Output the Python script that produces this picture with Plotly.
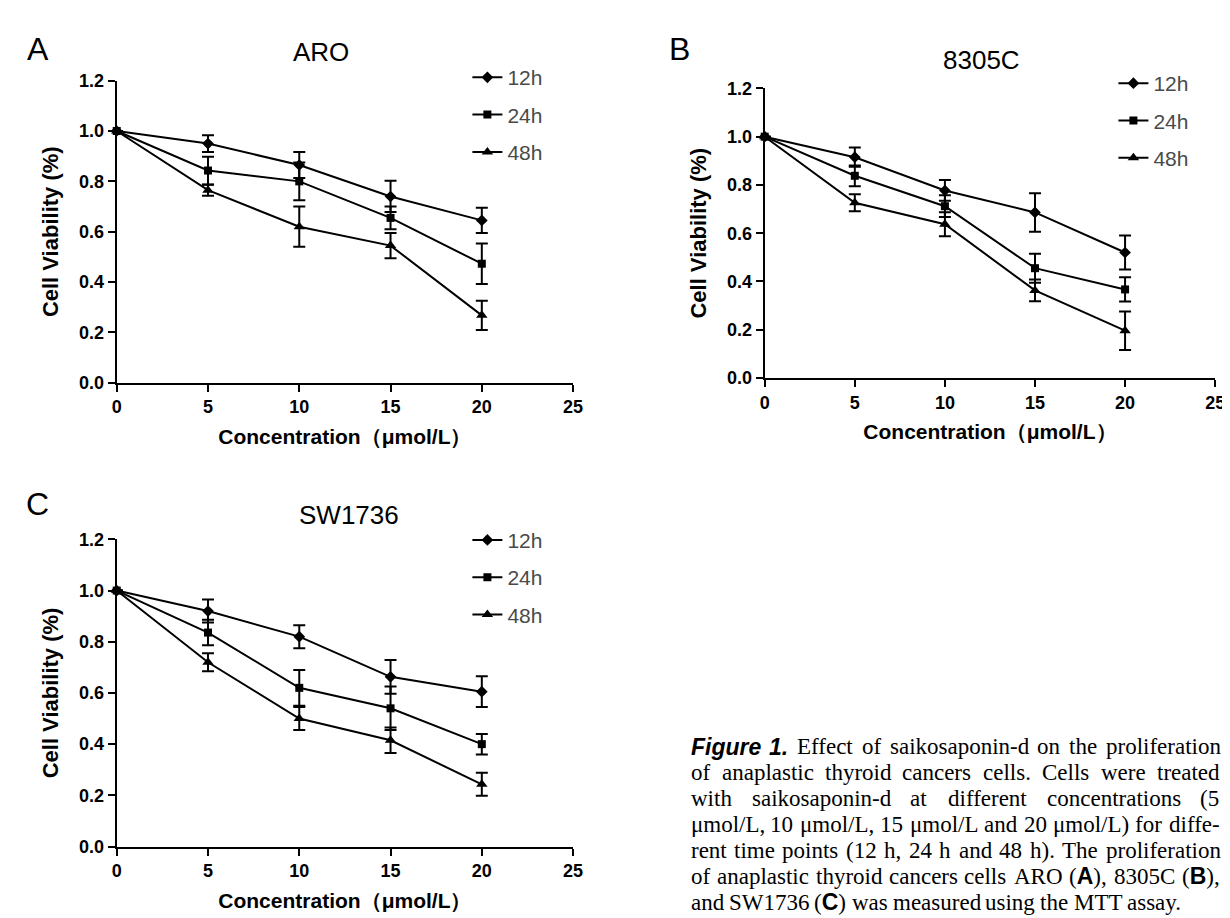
import re
import plotly.graph_objects as go

W, H = 1230, 918

# ---------------- data ----------------
conc = [0, 5, 10, 15, 20]
series_names = ["12h", "24h", "48h"]
x_ticks = [0, 5, 10, 15, 20, 25]
y_ticks = [0.0, 0.2, 0.4, 0.6, 0.8, 1.0, 1.2]

aro_12h = [1.0, 0.95, 0.865, 0.74, 0.645]
aro_12h_err = [0.0, 0.033, 0.052, 0.062, 0.05]
aro_24h = [1.0, 0.843, 0.80, 0.655, 0.473]
aro_24h_err = [0.0, 0.055, 0.075, 0.045, 0.08]
aro_48h = [1.0, 0.765, 0.62, 0.545, 0.268]
aro_48h_err = [0.0, 0.022, 0.08, 0.05, 0.058]

c8305_12h = [1.0, 0.915, 0.777, 0.686, 0.52]
c8305_12h_err = [0.0, 0.04, 0.043, 0.08, 0.07]
c8305_24h = [1.0, 0.838, 0.712, 0.455, 0.367]
c8305_24h_err = [0.0, 0.043, 0.045, 0.06, 0.05]
c8305_48h = [1.0, 0.726, 0.637, 0.363, 0.196]
c8305_48h_err = [0.0, 0.035, 0.05, 0.045, 0.08]

sw_12h = [1.0, 0.92, 0.82, 0.663, 0.605]
sw_12h_err = [0.0, 0.045, 0.045, 0.066, 0.06]
sw_24h = [1.0, 0.836, 0.62, 0.54, 0.40]
sw_24h_err = [0.0, 0.05, 0.07, 0.085, 0.04]
sw_48h = [1.0, 0.72, 0.50, 0.415, 0.243]
sw_48h_err = [0.0, 0.035, 0.045, 0.05, 0.045]

panel_letters = ["A", "B", "C"]
panel_titles = ["ARO", "8305C", "SW1736"]
panel_values = [[aro_12h, aro_24h, aro_48h],
                [c8305_12h, c8305_24h, c8305_48h],
                [sw_12h, sw_24h, sw_48h]]
panel_errors = [[aro_12h_err, aro_24h_err, aro_48h_err],
                [c8305_12h_err, c8305_24h_err, c8305_48h_err],
                [sw_12h_err, sw_24h_err, sw_48h_err]]

x_title = "Concentration（μmol/L）"
y_title = "Cell Viability (%)"

# '#' marks bold-italic sans words, %X% marks a bold sans letter
caption_lines = [
    "#Figure #1. Effect of saikosaponin-d on the proliferation",
    "of anaplastic thyroid cancers cells. Cells were treated",
    "with saikosaponin-d at different concentrations (5",
    "μmol/L, 10 μmol/L, 15 μmol/L and 20 μmol/L) for diffe-",
    "rent time points (12 h, 24 h and 48 h). The proliferation",
    "of anaplastic thyroid cancers cells ARO (%A%), 8305C (%B%),",
    "and SW1736 (%C%) was measured using the MTT assay.",
]

# ---------------- geometry (pixels) ----------------
boxes = [(105, 567, 373, 64), (761, 1217, 368, 72), (105, 567, 847, 533)]
letter_pos = [(25, 32), (675, 32), (25, 497)]
title_pos = [(312, 35), (980, 43), (340, 508)]
legend_pos = [(460, 40), (1114, 46), (460, 513)]

markers = ["diamond", "square", "triangle-up"]
msizes = [9, 8, 10]

SANS = "Liberation Sans, Arial, sans-serif"
SERIF = "Liberation Serif, Times New Roman, serif"


def px(x, y):
    return x / W, 1 - y / H


fig = go.Figure()

for i in range(3):
    n = "" if i == 0 else str(i + 1)
    leg = "legend" if i == 0 else "legend%d" % (i + 1)
    for k in range(3):
        fig.add_trace(go.Scatter(
            x=conc, y=panel_values[i][k],
            error_y=dict(type="data", array=panel_errors[i][k], visible=True,
                         color="black", thickness=2, width=6),
            mode="lines+markers",
            name=series_names[k],
            line=dict(color="black", width=2),
            marker=dict(symbol=markers[k], size=msizes[k], color="black"),
            cliponaxis=False,
            xaxis="x" + n, yaxis="y" + n,
            legend=leg,
            legendgroup="g%d%d" % (i, k),
        ))

layout = dict(
    width=W, height=H,
    margin=dict(l=0, r=0, t=0, b=0),
    paper_bgcolor="white", plot_bgcolor="white",
    showlegend=True,
    annotations=[],
)

tickfont = dict(family=SANS, size=18, color="black", weight="bold")
titlefont = dict(family=SANS, size=21, color="black", weight="bold")

for i, (x0, x1, yb, yt) in enumerate(boxes):
    n = "" if i == 0 else str(i + 1)
    layout["xaxis" + n] = dict(
        domain=[x0 / W, x1 / W], anchor="y" + n, range=[0, 25], tickvals=x_ticks,
        showline=True, linewidth=2, linecolor="black",
        ticks="outside", ticklen=7, tickwidth=2, tickcolor="black",
        showgrid=False, zeroline=False, tickfont=tickfont,
        title=dict(text=x_title, font=titlefont, standoff=13),
    )
    layout["yaxis" + n] = dict(
        domain=[1 - yb / H, 1 - yt / H], anchor="x" + n, range=[0, 1.2],
        tickvals=y_ticks, tickformat=".1f",
        showline=True, linewidth=2, linecolor="black",
        ticks="outside", ticklen=7, tickwidth=2, tickcolor="black",
        showgrid=False, zeroline=False, tickfont=tickfont,
        title=dict(text=y_title, font=dict(family=SANS, size=22, color="black", weight="bold"),
                   standoff=14),
    )
    lx, ly = px(*legend_pos[i])
    leg = "legend" if i == 0 else "legend%d" % (i + 1)
    layout[leg] = dict(
        x=lx, y=ly, xanchor="left", yanchor="top",
        bgcolor="rgba(0,0,0,0)", borderwidth=0,
        font=dict(family=SANS, size=21, color="#4a4a4a"),
        itemwidth=30, tracegroupgap=7, traceorder="grouped",
    )
    ax, ay = px(*letter_pos[i])
    layout["annotations"].append(dict(
        x=ax, y=ay, xref="paper", yref="paper", text=panel_letters[i],
        showarrow=False, xanchor="center", yanchor="middle",
        font=dict(family=SANS, size=32, color="black")))
    tx, ty = px(*title_pos[i])
    layout["annotations"].append(dict(
        x=tx, y=ty, xref="paper", yref="paper", text=panel_titles[i],
        showarrow=False, xanchor="center", yanchor="middle",
        font=dict(family=SANS, size=26, color="black")))

# ---------------- caption (justified, word by word) ----------------
CAP_SIZE = 23
CAP_LEFT, CAP_RIGHT = 685, 1220
CAP_TOP, CAP_STEP = 745, 26.5

times_w = {' ': 250, 'a': 444, 'b': 500, 'c': 444, 'd': 500, 'e': 444, 'f': 333, 'g': 500,
           'h': 500, 'i': 278, 'j': 278, 'k': 500, 'l': 278, 'm': 778, 'n': 500, 'o': 500,
           'p': 500, 'q': 500, 'r': 333, 's': 389, 't': 278, 'u': 500, 'v': 500, 'w': 722,
           'x': 500, 'y': 500, 'z': 444, 'A': 722, 'B': 667, 'C': 667, 'D': 722, 'E': 611,
           'F': 556, 'L': 611, 'M': 889, 'O': 722, 'R': 667, 'S': 556, 'T': 611, 'W': 944,
           '(': 333, ')': 333, '.': 250, ',': 250, '-': 333, '/': 278, 'μ': 500}
for d in "0123456789":
    times_w[d] = 500
sans_bi_w = {'F': 611, 'i': 278, 'g': 611, 'u': 611, 'r': 389, 'e': 556, '1': 556, '.': 278}
sans_b_w = {'A': 722, 'B': 722, 'C': 722}


def word_parts(word):
    """Return (html, width_px) of one caption word."""
    if word.startswith("#"):
        t = word[1:]
        w = sum(sans_bi_w.get(c, 556) for c in t) * CAP_SIZE / 1000
        return "<b><i><span style='font-family:Liberation Sans'>%s</span></i></b>" % t, w
    html, w = "", 0.0
    for seg in re.split(r"(%[A-Z]%)", word):
        if not seg:
            continue
        if seg.startswith("%"):
            c = seg[1]
            html += "<b><span style='font-family:Liberation Sans'>%s</span></b>" % c
            w += sans_b_w[c] * CAP_SIZE / 1000
        else:
            html += seg
            w += sum(times_w.get(c, 500) for c in seg) * CAP_SIZE / 1000
    return html, w


for j, line in enumerate(caption_lines):
    words = [word_parts(wd) for wd in line.split(" ")]
    total = sum(w for _, w in words)
    last = j == len(caption_lines) - 1
    if last or len(words) < 2:
        gap = times_w[' '] * CAP_SIZE / 1000
    else:
        gap = (CAP_RIGHT - CAP_LEFT - total) / (len(words) - 1)
    xcur = CAP_LEFT
    ycap = CAP_TOP + CAP_STEP * j
    for html, w in words:
        cx, cy = px(xcur, ycap)
        layout["annotations"].append(dict(
            x=cx, y=cy, xref="paper", yref="paper", text=html,
            showarrow=False, xanchor="left", yanchor="middle", align="left",
            borderpad=0, font=dict(family=SERIF, size=CAP_SIZE, color="black")))
        xcur += w + gap

fig.update_layout(**layout)
fig.write_html("out.html")
